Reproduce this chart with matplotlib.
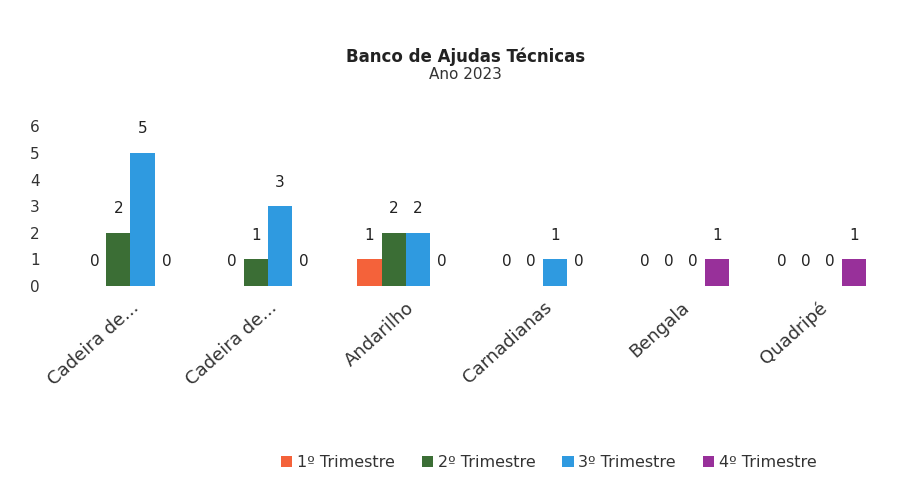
import matplotlib.pyplot as plt
import numpy as np

plt.rcParams['font.family'] = ['DejaVu Sans']

# dados
categorias = ['Cadeira de...', 'Cadeira de...', 'Andarilho', 'Carnadianas', 'Bengala', 'Quadripé']
trimestres = ['1º Trimestre', '2º Trimestre', '3º Trimestre', '4º Trimestre']
t1 = [0, 0, 1, 0, 0, 0]
t2 = [2, 1, 2, 0, 0, 0]
t3 = [5, 3, 2, 1, 0, 0]
t4 = [0, 0, 0, 0, 1, 1]
cores = ['#f4623a', '#3b6e35', '#2f9ae0', '#98309a']

fig = plt.figure(figsize=(9.07, 4.95), dpi=100)
ax = fig.add_axes([0.068, 0.422, 0.910, 0.323])

x = np.arange(len(categorias))
w = 0.175
for i, (vals, nome, cor) in enumerate(zip([t1, t2, t3, t4], trimestres, cores)):
    bars = ax.bar(x + (i - 1.5) * w, vals, w, color=cor, label=nome)
    ax.bar_label(bars, padding=12, fontsize=11, color='#222222')

ax.set_xlim(-0.5, len(categorias) - 0.5)
ax.set_ylim(0, 6)
ax.set_yticks(range(0, 7))
ax.tick_params(axis='y', length=0, labelsize=11, pad=16, labelcolor='#333333')
ax.tick_params(axis='x', length=0, labelsize=13, labelcolor='#333333', pad=9)
ax.set_xticks(x)
ax.set_xticklabels(categorias, rotation=42, ha='right', rotation_mode='anchor')
for s in ax.spines.values():
    s.set_visible(False)

fig.text(0.513, 0.885, 'Banco de Ajudas Técnicas', ha='center', va='center',
         fontsize=12, fontweight='bold', color='#222222')
fig.text(0.513, 0.849, 'Ano 2023', ha='center', va='center', fontsize=11, color='#333333')

fig.legend(loc='center', bbox_to_anchor=(0.605, 0.065), ncol=4, frameon=False,
           fontsize=11.5, handlelength=0.7, handleheight=0.7, handletextpad=0.3,
           columnspacing=1.7, labelcolor='#333333')

plt.savefig('out.png', dpi=100)
